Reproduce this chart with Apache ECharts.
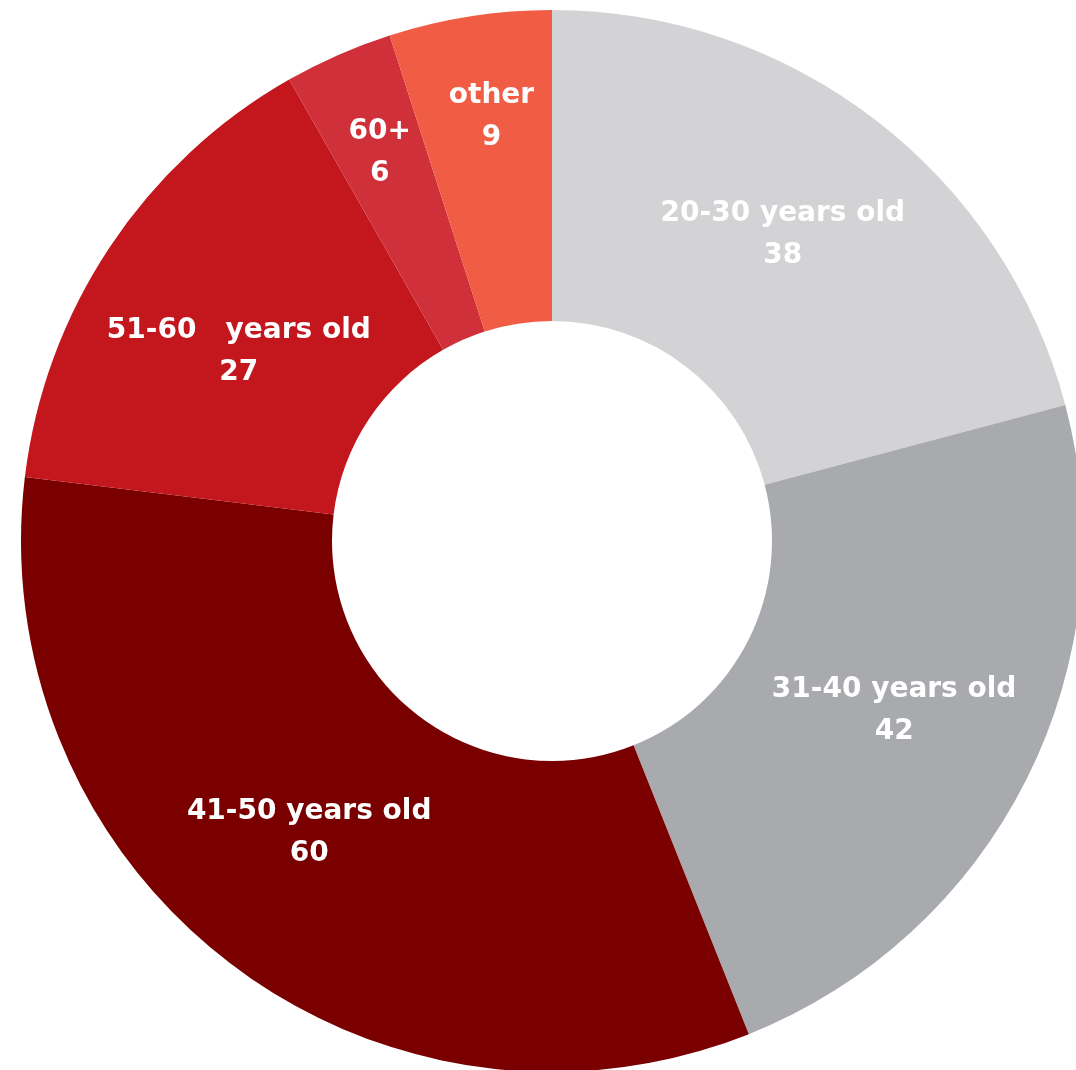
<!DOCTYPE html>
<html>
<head>
<meta charset="utf-8">
<script src="https://cdn.jsdelivr.net/npm/echarts@6/dist/echarts.min.js"></script>
<style>html,body{margin:0;padding:0;background:#fff;}#c{width:1076px;height:1070px;}</style>
</head>
<body>
<div id="c"></div>
<script>
const categories = ['20-30 years old', '31-40 years old', '41-50 years old', '51-60   years old', '60+', 'other'];
const values = [38, 42, 60, 27, 6, 9];
const colors = ['#d3d3d5', '#a9aaad', '#7a0000', '#c3161d', '#d0303a', '#f05d44'];
const labelOffsets = [[0, -6], [4, 0], [-12, -8], [2, 20], [-20, -42], [-2, -50]];

const chart = echarts.init(document.getElementById('c'));
chart.setOption({
  animation: false,
  series: [{
    type: 'pie',
    center: [552, 541],
    radius: [220, 531],
    startAngle: 90,
    clockwise: true,
    avoidLabelOverlap: false,
    data: categories.map((n, i) => ({
      name: n,
      value: values[i],
      itemStyle: { color: colors[i] },
      label: { offset: labelOffsets[i] }
    })),
    label: {
      show: true,
      position: 'inside',
      formatter: '{b}\n{c}',
      color: '#fff',
      fontFamily: 'DejaVu Sans',
      fontWeight: 'bold',
      fontSize: 28,
      lineHeight: 42,
      align: 'center'
    },
    labelLine: { show: false }
  }]
});
</script>
</body>
</html>
